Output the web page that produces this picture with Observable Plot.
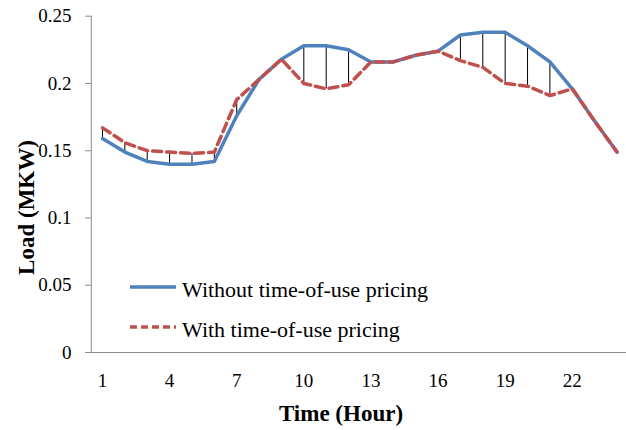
<!DOCTYPE html>
<html>
<head>
<meta charset="utf-8">
<script src="https://cdn.jsdelivr.net/npm/d3@7"></script>
<script src="https://cdn.jsdelivr.net/npm/@observablehq/plot@0.6"></script>
<style>
  html, body { margin: 0; padding: 0; background: #fff; }
  #wrap { position: relative; width: 626px; height: 430px; font-family: "Liberation Serif", "Times New Roman", serif; }
  #legend { position: absolute; left: 0; top: 0; pointer-events: none; }
</style>
</head>
<body>
<div id="wrap"></div>
<script>
const hours = [1,2,3,4,5,6,7,8,9,10,11,12,13,14,15,16,17,18,19,20,21,22,23,24];
const withoutTOU = [0.159,0.149,0.142,0.140,0.140,0.142,0.176,0.203,0.218,0.228,0.228,0.225,0.216,0.216,0.221,0.224,0.236,0.238,0.238,0.228,0.216,0.196,0.172,0.149];
const withTOU    = [0.167,0.156,0.150,0.149,0.148,0.149,0.188,0.203,0.218,0.200,0.196,0.199,0.216,0.216,0.221,0.224,0.217,0.212,0.200,0.198,0.191,0.196,0.172,0.149];
const xTicks = [1,4,7,10,13,16,19,22];
const yTicks = [0,0.05,0.1,0.15,0.2,0.25];
const yTickLabels = ["0","0.05","0.1","0.15","0.2","0.25"];
const seriesNames = ["Without time-of-use pricing","With time-of-use pricing"];
const xTitle = "Time (Hour)";
const yTitle = "Load (MKW)";

const rows = hours.map((h, i) => ({hour: h, a: withoutTOU[i], b: withTOU[i]}));

const font = '"Liberation Serif", "Times New Roman", serif';
const blue = "#4F81BD", red = "#C0504D", axisGray = "#8c8c8c";

const chart = Plot.plot({
  width: 626,
  height: 430,
  marginLeft: 91,
  marginTop: 16,
  marginBottom: 78,
  marginRight: 0,
  style: {fontFamily: font, fontSize: "19px", color: "#000", background: "#fff"},
  x: {type: "linear", domain: [0.5, 24.5], range: [90.8, 627.7]},
  y: {domain: [0, 0.25], range: [352, 15.7]},
  marks: [
    Plot.ruleY([0], {stroke: axisGray, strokeWidth: 1}),
    Plot.ruleX([0.5], {y1: 0, y2: 0.25, stroke: axisGray, strokeWidth: 1}),
    Plot.axisY({ticks: yTicks, tickFormat: (d) => yTickLabels[yTicks.indexOf(d)], tickSize: 6, tickPadding: 14, stroke: axisGray, fill: "#000", label: null, fontSize: 19}),
    Plot.axisX({ticks: xTicks, tickSize: 0, tickPadding: 21, tickFormat: (d) => String(d), label: null, fontSize: 19, fill: "#000"}),
    Plot.ruleX(rows, {x: "hour", y1: "a", y2: "b", stroke: "#000", strokeWidth: 1}),
    Plot.line(rows, {x: "hour", y: "a", stroke: blue, strokeWidth: 3.5, strokeLinejoin: "round"}),
    Plot.line(rows, {x: "hour", y: "b", stroke: red, strokeWidth: 3.5, strokeDasharray: "9,5", strokeLinejoin: "round"}),
    Plot.text([xTitle], {frameAnchor: "bottom", dx: -18, dy: 61, text: d => d, fontSize: 23, fontWeight: "bold", fill: "#000", lineAnchor: "middle", textAnchor: "middle"}),
    Plot.text([yTitle], {frameAnchor: "left", dx: -65, dy: 23, text: d => d, fontSize: 23, fontWeight: "bold", fill: "#000", rotate: -90, lineAnchor: "middle", textAnchor: "middle"})
  ]
});

const wrap = document.getElementById("wrap");
wrap.appendChild(chart);

// legend overlay (inside plot area, lower left)
const ns = "http://www.w3.org/2000/svg";
const leg = document.createElementNS(ns, "svg");
leg.setAttribute("id", "legend");
leg.setAttribute("width", 626);
leg.setAttribute("height", 430);
const items = [
  {name: seriesNames[0], color: blue, dash: null, y: 287},
  {name: seriesNames[1], color: red, dash: "7,4", y: 327}
];
items.forEach(it => {
  const l = document.createElementNS(ns, "line");
  l.setAttribute("x1", 130); l.setAttribute("x2", 176);
  l.setAttribute("y1", it.y); l.setAttribute("y2", it.y);
  l.setAttribute("stroke", it.color); l.setAttribute("stroke-width", 3.5);
  if (it.dash) l.setAttribute("stroke-dasharray", it.dash);
  leg.appendChild(l);
  const t = document.createElementNS(ns, "text");
  t.setAttribute("x", 182); t.setAttribute("y", it.y + 10);
  t.setAttribute("font-family", font);
  t.setAttribute("font-size", 22);
  t.setAttribute("fill", "#000");
  t.textContent = it.name;
  leg.appendChild(t);
});
wrap.appendChild(leg);
</script>
</body>
</html>
